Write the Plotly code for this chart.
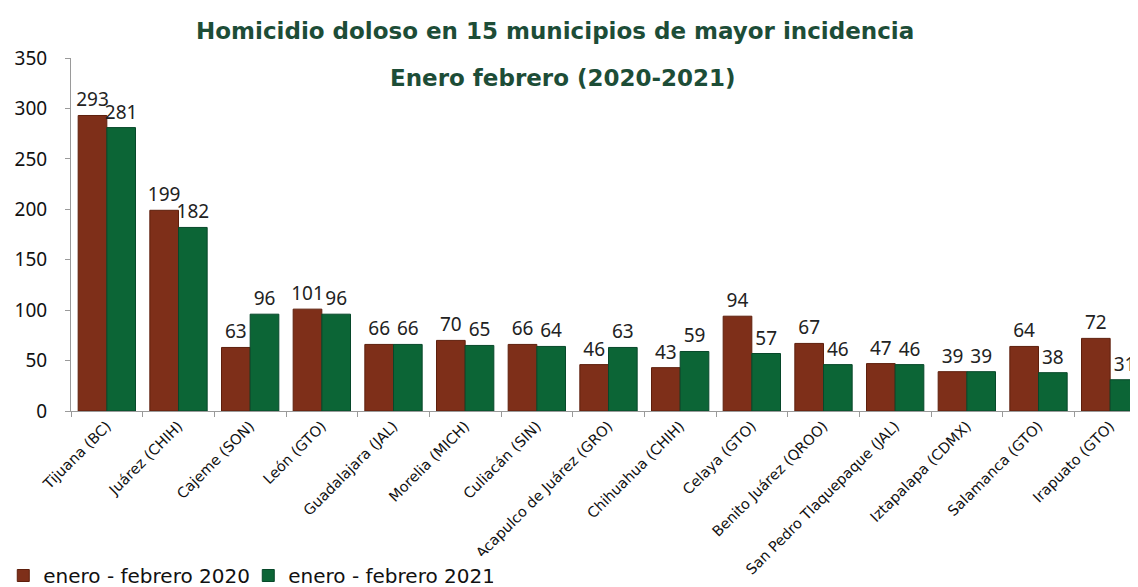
import plotly.graph_objects as go

municipios = ['Tijuana (BC)', 'Juárez (CHIH)', 'Cajeme (SON)', 'León (GTO)', 'Guadalajara (JAL)',
              'Morelia (MICH)', 'Culiacán (SIN)', 'Acapulco de Juárez (GRO)', 'Chihuahua (CHIH)',
              'Celaya (GTO)', 'Benito Juárez (QROO)', 'San Pedro Tlaquepaque (JAL)',
              'Iztapalapa (CDMX)', 'Salamanca (GTO)', 'Irapuato (GTO)']
ene_feb_2020 = [293, 199, 63, 101, 66, 70, 66, 46, 43, 94, 67, 47, 39, 64, 72]
ene_feb_2021 = [281, 182, 96, 96, 66, 65, 64, 63, 59, 57, 46, 46, 39, 38, 31]

FONT = 'DejaVu Sans'
NUM_FONT = 'Noto Sans'
GREEN_TITLE = '#1d4d37'

fig = go.Figure()
fig.add_trace(go.Bar(
    x=municipios, y=ene_feb_2020, name='enero - febrero 2020',
    marker=dict(color='#7e2f19', line=dict(color='#5e1f0c', width=1)),
    text=ene_feb_2020, textposition='outside', cliponaxis=False, constraintext='none',
    textfont=dict(size=19, color='#222222', family=NUM_FONT),
))
fig.add_trace(go.Bar(
    x=municipios, y=ene_feb_2021, name='enero - febrero 2021',
    marker=dict(color='#0c6536', line=dict(color='#07482a', width=1)),
    text=ene_feb_2021, textposition='outside', cliponaxis=False, constraintext='none',
    textfont=dict(size=19, color='#222222', family=NUM_FONT),
))

fig.update_layout(
    width=1138, height=587,
    barmode='group', bargap=0.2, bargroupgap=0,
    plot_bgcolor='white', paper_bgcolor='white',
    margin=dict(l=63, r=0, t=50, b=184, autoexpand=False),
    font=dict(family=FONT, color='#222222'),
    xaxis=dict(
        range=[-0.5, 14.5],
        showline=True, linecolor='#9a9a9a', linewidth=1,
        ticks='outside', tickson='boundaries', tickcolor='#9a9a9a', ticklen=5,
        tickangle=-45, tickfont=dict(size=14.5, color='#111111'),
        showgrid=False, automargin=False,
    ),
    yaxis=dict(
        range=[0, 350], dtick=50,
        showline=True, linecolor='#9a9a9a', linewidth=1,
        ticks='outside', tickcolor='#9a9a9a', ticklen=5,
        tickfont=dict(size=19, color='#111111', family=NUM_FONT),
        ticklabelstandoff=14,
        showgrid=False, zeroline=False, automargin=False,
    ),
    legend=dict(
        orientation='h', xref='paper', yref='container',
        x=-0.063, y=0.0, xanchor='left', yanchor='bottom',
        font=dict(size=20, color='#111111'), itemwidth=30,
        entrywidth=200, traceorder='normal',
    ),
    showlegend=True,
    annotations=[
        dict(text='<b>Homicidio doloso en 15 municipios de mayor incidencia</b>',
             xref='paper', yref='paper', x=0.45, y=1.076, yanchor='middle', showarrow=False,
             font=dict(size=23, color=GREEN_TITLE, family=FONT)),
        dict(text='<b>Enero febrero (2020-2021)</b>',
             xref='paper', yref='paper', x=0.458, y=0.943, yanchor='middle', showarrow=False,
             font=dict(size=23, color=GREEN_TITLE, family=FONT)),
    ],
)

fig.write_html("out.html")
